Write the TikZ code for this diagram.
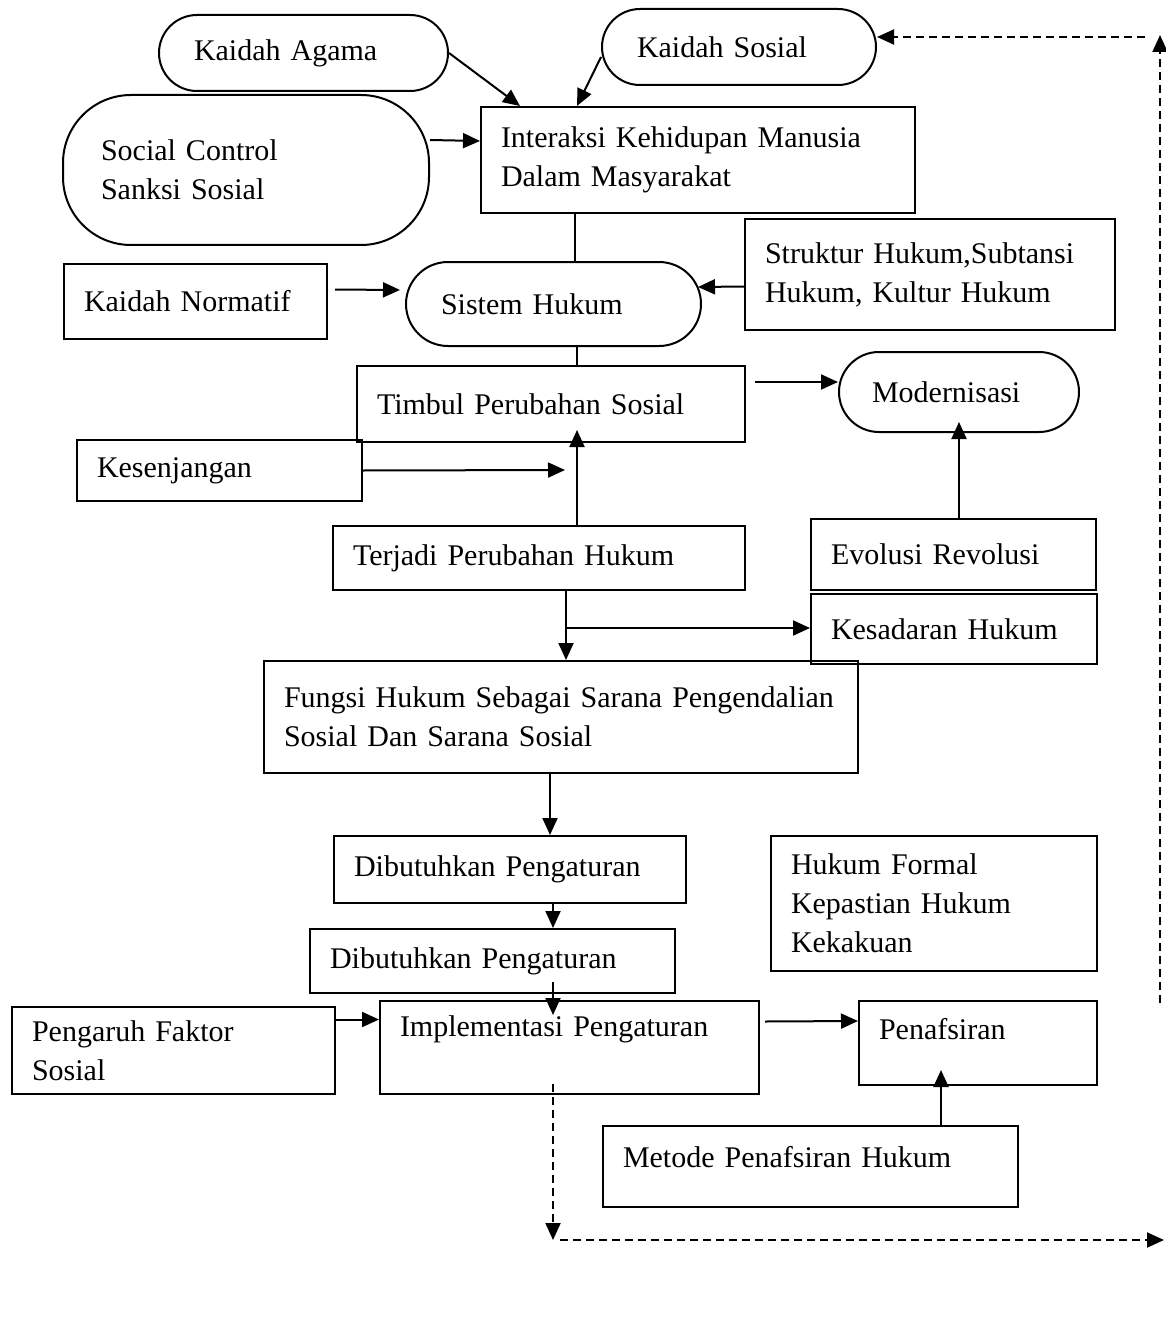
\documentclass[tikz,border=0pt]{standalone}
\usepackage{fontspec}
\setmainfont{Liberation Serif}
\usetikzlibrary{arrows.meta}

\tikzset{
  box/.style={%
    draw,
    rectangle,
    line width=2pt,
    anchor=north west,
    align=left,
    inner xsep=20pt,
    inner ysep=4pt,
    font=\fontsize{30pt}{39pt}\selectfont,
  },
  pill/.style={box, rounded corners=#1, inner xsep=35pt},
  pill/.default=40pt,
  arr/.style={line width=2pt, -{Triangle[length=17pt,width=15pt]}},
  dasharr/.style={arr, dash pattern=on 8pt off 5pt},
}

\begin{document}
\begin{tikzpicture}[x=1pt,y=-1pt]
    \useasboundingbox (0,0) rectangle (1165,1332);

    \node [pill=38pt, minimum width=289pt, minimum height=76pt, text width=219pt] (agama) at (158,14) {Kaidah Agama};
    \node [pill=38pt, minimum width=274pt, minimum height=76pt, text width=204pt] (ksosial) at (601,8) {Kaidah Sosial};
    \node [pill=68pt, inner xsep=38pt, minimum width=366pt, minimum height=150pt, text width=290pt] (control) at (62,94) {Social Control\\Sanksi Sosial};
    \node [box, minimum width=434pt, minimum height=106pt, text width=394pt] (inter) at (480,106) {Interaksi Kehidupan Manusia\\Dalam Masyarakat};
    \node [box, minimum width=263pt, minimum height=75pt, text width=223pt] (normatif) at (63,263) {Kaidah Normatif};
    \node [pill=42pt, minimum width=295pt, minimum height=84pt, text width=225pt] (sistem) at (405,261) {Sistem Hukum};
    \node [box, minimum width=370pt, minimum height=111pt, text width=330pt] (struktur) at (744,218) {Struktur Hukum,Subtansi\\Hukum, Kultur Hukum};
    \node [box, minimum width=388pt, minimum height=76pt, text width=348pt] (timbul) at (356,365) {Timbul Perubahan Sosial};
    \node [pill=40pt, inner xsep=33pt, minimum width=240pt, minimum height=80pt, text width=174pt] (modern) at (838,351) {Modernisasi};
    \node [box, minimum width=285pt, minimum height=61pt, text width=245pt] (kesenjangan) at (76,439) {Kesenjangan};
    \node [box, minimum width=412pt, minimum height=64pt, text width=372pt] (terjadi) at (332,525) {Terjadi Perubahan Hukum};
    \node [box, minimum width=285pt, minimum height=71pt, text width=245pt] (evolusi) at (810,518) {Evolusi Revolusi};
    \node [box, minimum width=286pt, minimum height=70pt, text width=246pt] (kesadaran) at (810,593) {Kesadaran Hukum};
    \node [box, minimum width=594pt, minimum height=112pt, text width=554pt] (fungsi) at (263,660) {Fungsi Hukum Sebagai Sarana Pengendalian\\Sosial Dan Sarana Sosial};
    \node [box, minimum width=352pt, minimum height=67pt, text width=312pt] (dib1) at (333,835) {Dibutuhkan Pengaturan};
    \node [box, minimum width=326pt, minimum height=135pt, text width=286pt] (formal) at (770,835) {Hukum Formal\\Kepastian Hukum\\Kekakuan};
    \node [box, minimum width=365pt, minimum height=64pt, text width=325pt] (dib2) at (309,928) {Dibutuhkan Pengaturan};
    \node [box, minimum width=323pt, minimum height=87pt, text width=283pt] (pengaruh) at (11,1006) {Pengaruh Faktor\\Sosial};
    \node [box, minimum width=379pt, minimum height=93pt, text width=339pt, text depth=42pt] (impl) at (379,1000) {Implementasi Pengaturan};
    \node [box, minimum width=238pt, minimum height=84pt, text width=198pt, text depth=28pt] (penafsiran) at (858,1000) {Penafsiran};
    \node [box, minimum width=415pt, minimum height=81pt, text width=375pt, text depth=20pt] (metode) at (602,1125) {Metode Penafsiran Hukum};

    % vertical runs and free ends
    \coordinate (c1) at (575,0);
    \coordinate (c2) at (577,0);
    \coordinate (c3) at (566,0);
    \coordinate (c4) at (550,0);
    \coordinate (c5) at (553,0);
    \coordinate (c6) at (959,0);
    \coordinate (c7) at (941,0);
    \coordinate (kgap) at (565,470);
    \coordinate (split) at (566,628);
    \coordinate (dcorner) at (553,1240);
    \coordinate (dend) at (1164,1240);
    \coordinate (rbottom) at (1160,1003);
    \coordinate (rtop) at (1160,35);
    \coordinate (rleft) at (1145,37);

    \draw [arr] (agama.east) -- ([xshift=40pt]inter.north west);
    \draw [arr] ([yshift=-10pt]ksosial.west) -- ([xshift=97pt]inter.north west);
    \draw [arr] ([yshift=30pt]control.east) -- ([yshift=19pt]inter.west);
    \draw [line width=2pt] (inter.south -| c1) -- (sistem.north -| c1);
    \draw [arr, shorten <=7pt, shorten >=5pt] ([yshift=12pt]normatif.east) -- ([yshift=14pt]sistem.west);
    \draw [arr] ([yshift=-12pt]struktur.west) -- ([xshift=-4pt,yshift=17pt]sistem.east);
    \draw [line width=2pt] (sistem.south -| c2) -- (timbul.north -| c2);
    \draw [arr] ([xshift=9pt,yshift=22pt]timbul.east) -- ([yshift=10pt]modern.west);
    \draw [arr] (kesenjangan.east) -- (kgap);
    \draw [arr, shorten >=-13pt] (terjadi.north -| c2) -- (timbul.south -| c2);
    \draw [arr, shorten >=-11pt] (evolusi.north -| c6) -- (modern.south -| c6);
    \draw [arr] (terjadi.south -| c3) -- (fungsi.north -| c3);
    \draw [arr] (split) -- (split -| kesadaran.west);
    \draw [arr] (fungsi.south -| c4) -- (dib1.north -| c4);
    \draw [arr] (dib1.south -| c5) -- (dib2.north -| c5);
    \draw [arr, shorten <=-12pt, shorten >=-15pt] (dib2.south -| c5) -- (impl.north -| c5);
    \draw [arr] ([yshift=31pt]pengaruh.east) -- ([yshift=28pt]impl.west);
    \draw [arr] ([xshift=5pt,yshift=26pt]impl.east) -- ([yshift=22pt]penafsiran.west);
    \draw [arr, shorten >=-16pt] (metode.north -| c7) -- (penafsiran.south -| c7);

    % dashed loop back
    \draw [dasharr, shorten <=-11pt] (impl.south -| c5) -- (dcorner);
    \draw [dasharr, shorten <=7pt] (dcorner) -- (dend);
    \draw [dasharr] (rbottom) -- (rtop);
    \draw [dasharr] (rleft) -- (rleft -| ksosial.east);
\end{tikzpicture}
\end{document}
